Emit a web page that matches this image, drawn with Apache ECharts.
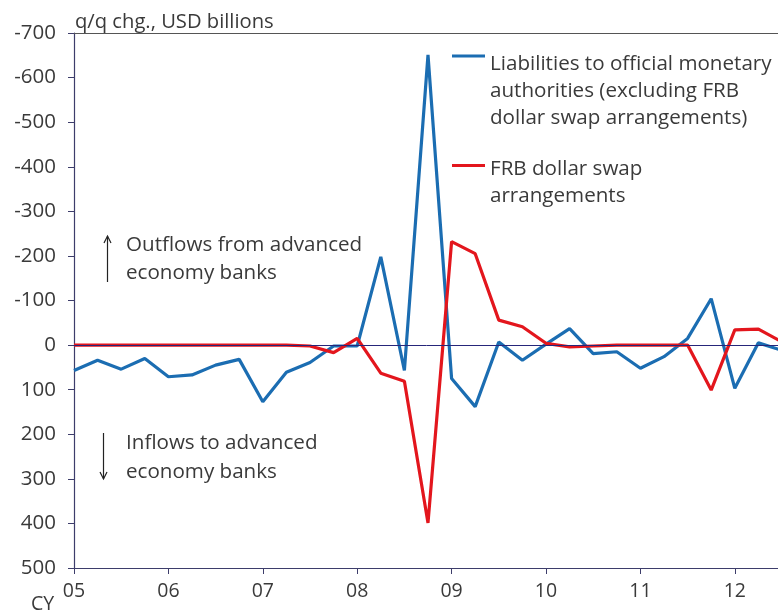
<!DOCTYPE html>
<html>
<head>
<meta charset="utf-8">
<script src="https://cdn.jsdelivr.net/npm/echarts@6/dist/echarts.min.js"></script>
<style>
  html, body { margin: 0; padding: 0; background: #ffffff; }
  #chart { width: 778px; height: 613px; }
</style>
</head>
<body>
<div id="chart"></div>
<script>
// ---- Data (quarterly change, USD billions; positive = inflows to advanced economy banks) ----
const quarters = [
  '2005Q1','2005Q2','2005Q3','2005Q4',
  '2006Q1','2006Q2','2006Q3','2006Q4',
  '2007Q1','2007Q2','2007Q3','2007Q4',
  '2008Q1','2008Q2','2008Q3','2008Q4',
  '2009Q1','2009Q2','2009Q3','2009Q4',
  '2010Q1','2010Q2','2010Q3','2010Q4',
  '2011Q1','2011Q2','2011Q3','2011Q4',
  '2012Q1','2012Q2','2012Q3'
];
const yearTickLabels = ['05','06','07','08','09','10','11','12'];

const liabilitiesOfficial = [
  57, 34, 54, 30,
  71, 67, 45, 32,
  127, 61, 39, 2,
  2, -198, 57, -651,
  75, 138, -7, 34,
  -2, -37, 19, 15,
  52, 26, -15, -104,
  97, -5, 12
];
const frbSwap = [
  0, 0, 0, 0,
  0, 0, 0, 0,
  0, 0, 2, 17,
  -15, 63, 81, 399,
  -232, -205, -56, -41,
  -4, 4, 2, 0,
  0, 0, 0, 101,
  -34, -36, -7
];

const seriesNames = [
  'Liabilities to official monetary authorities (excluding FRB dollar swap arrangements)',
  'FRB dollar swap arrangements'
];
const legendLines = {
  [seriesNames[0]]: ['Liabilities to official monetary', 'authorities (excluding FRB', 'dollar swap arrangements)'],
  [seriesNames[1]]: ['FRB dollar swap', 'arrangements']
};
const yMin = -700, yMax = 500, yStep = 100;

// ---- Styles ----
const FONT = '"Open Sans"';
const TEXT = '#3a3a3a';
const AXIS = '#3d3d6b';
const BLUE = '#1b6db2';
const RED = '#e3161d';
const LH = 27;

// Legend label: spacer lines above so the first real line sits level with the icon
function legendLabel(name) {
  const lines = legendLines[name];
  const spacers = [];
  for (let k = 1; k < lines.length; k++) spacers.push('{sp| }');
  return spacers.concat(lines.map(l => '{t|' + l + '}')).join('\n');
}
const legendRich = {
  sp: { fontFamily: FONT, fontSize: 10, lineHeight: 35 },
  t: { fontFamily: FONT, fontSize: 20.6, color: TEXT, lineHeight: LH }
};

const chart = echarts.init(document.getElementById('chart'), null, { renderer: 'canvas' });

const option = {
  backgroundColor: '#ffffff',
  animation: false,
  title: {
    text: 'q/q chg., USD billions',
    left: 70, top: 7,
    textStyle: { fontFamily: FONT, fontSize: 20.2, fontWeight: 'normal', color: TEXT }
  },
  grid: { left: 74, top: 33, right: -4, bottom: 45, outerBoundsMode: 'none', containLabel: false },
  legend: [
    {
      data: [{ name: seriesNames[0], icon: 'rect' }],
      left: 452, top: -7, padding: 0,
      itemWidth: 33, itemHeight: 3,
      formatter: legendLabel,
      textStyle: { rich: legendRich }
    },
    {
      data: [{ name: seriesNames[1], icon: 'rect' }],
      left: 452, top: 133.5, padding: 0,
      itemWidth: 33, itemHeight: 3,
      formatter: legendLabel,
      textStyle: { rich: legendRich }
    }
  ],
  xAxis: [
    {
      type: 'category',
      data: quarters,
      boundaryGap: false,
      position: 'bottom',
      axisLine: { onZero: false, lineStyle: { color: AXIS, width: 1.2 } },
      axisTick: { show: true, interval: 3, length: 6, lineStyle: { color: AXIS } },
      axisLabel: {
        interval: 3, margin: 13,
        fontFamily: FONT, fontSize: 19.5, color: TEXT,
        formatter: (v, i) => (i % 4 === 0 ? yearTickLabels[i / 4] : '')
      },
      splitLine: { show: false }
    },
    {
      type: 'category',
      data: quarters,
      boundaryGap: false,
      position: 'top',
      axisLine: { onZero: false, lineStyle: { color: '#555555', width: 1.2 } },
      axisTick: { show: false },
      axisLabel: { show: false },
      splitLine: { show: false }
    }
  ],
  yAxis: {
    type: 'value',
    inverse: true,
    min: yMin, max: yMax, interval: yStep,
    axisLine: { show: true, lineStyle: { color: AXIS, width: 1.2 } },
    axisTick: { show: true, length: 6, lineStyle: { color: AXIS } },
    axisLabel: { margin: 18, fontFamily: FONT, fontSize: 20.5, color: TEXT },
    splitLine: { show: false }
  },
  series: [
    {
      name: seriesNames[0],
      type: 'line',
      data: liabilitiesOfficial,
      symbol: 'none',
      lineStyle: { color: BLUE, width: 3.2 },
      itemStyle: { color: BLUE },
      z: 2,
      markLine: {
        silent: true,
        symbol: 'none',
        label: { show: false },
        lineStyle: { color: '#26267a', width: 1, type: 'solid' },
        data: [{ yAxis: 0 }]
      }
    },
    {
      name: seriesNames[1],
      type: 'line',
      data: frbSwap,
      symbol: 'none',
      lineStyle: { color: RED, width: 3.2 },
      itemStyle: { color: RED },
      z: 3
    }
  ],
  graphic: [
    { type: 'text', left: 31, top: 594,
      style: { text: 'CY', font: '19.5px ' + FONT, fill: TEXT } },
    { type: 'text', x: 126, y: 231,
      style: { text: 'Outflows from advanced\neconomy banks', font: '20.6px ' + FONT, fill: TEXT, lineHeight: 28, verticalAlign: 'top' } },
    { type: 'text', x: 126, y: 428.5,
      style: { text: 'Inflows to advanced\neconomy banks', font: '20.6px ' + FONT, fill: TEXT, lineHeight: 29, verticalAlign: 'top' } },
    { type: 'polyline', shape: { points: [[107.5, 236], [107.5, 282]] }, style: { stroke: '#222', lineWidth: 1.2, fill: null } },
    { type: 'polyline', shape: { points: [[104, 243], [107.5, 236], [111, 243]] }, style: { stroke: '#222', lineWidth: 1.2, fill: null } },
    { type: 'polyline', shape: { points: [[103.5, 433], [103.5, 479]] }, style: { stroke: '#222', lineWidth: 1.2, fill: null } },
    { type: 'polyline', shape: { points: [[100, 472], [103.5, 479], [107, 472]] }, style: { stroke: '#222', lineWidth: 1.2, fill: null } }
  ]
};

chart.setOption(option);
</script>
</body>
</html>
